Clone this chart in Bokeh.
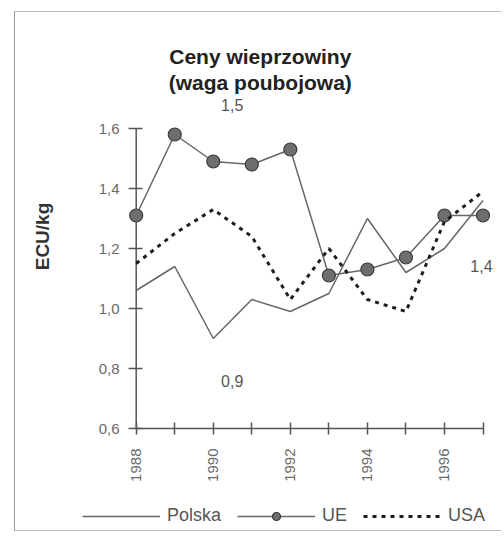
from bokeh.plotting import figure
from bokeh.layouts import column
from bokeh.models import FixedTicker, Label, Legend, LegendItem, Range1d
from bokeh.embed import file_html
from bokeh.resources import INLINE
import math

years = [1988, 1989, 1990, 1991, 1992, 1993, 1994, 1995, 1996, 1997]
polska = [1.06, 1.14, 0.90, 1.03, 0.99, 1.05, 1.30, 1.12, 1.20, 1.36]
ue = [1.31, 1.58, 1.49, 1.48, 1.53, 1.11, 1.13, 1.17, 1.31, 1.31]
usa = [1.15, 1.25, 1.33, 1.24, 1.03, 1.20, 1.03, 0.99, 1.29, 1.39]
y_ticks = [0.6, 0.8, 1.0, 1.2, 1.4, 1.6]
y_tick_labels = ["0,6", "0,8", "1,0", "1,2", "1,4", "1,6"]
x_tick_labels = ["1988", "", "1990", "", "1992", "", "1994", "", "1996", ""]
series_names = ["Polska", "UE", "USA"]

GRAY_TXT = "#6a6a6a"
AX = "#555555"
LINE_GRAY = "#666666"


def draw_series(fig):
    r1 = fig.line(years, polska, line_color=LINE_GRAY, line_width=1.5)
    r2 = fig.line(years, ue, line_color=LINE_GRAY, line_width=1.5)
    r3 = fig.scatter(years, ue, size=13, fill_color="#6e6e6e", line_color="#3a3a3a", line_width=1.2)
    r4 = fig.line(years, usa, line_color="#1e1e1e", line_width=3, line_dash="4 5")
    return r1, r2, r3, r4


p = figure(width=486, height=490, output_backend="svg", toolbar_location=None,
           x_range=(1987.8, 1997.35), y_range=(0.6, 1.88),
           min_border_left=113, min_border_right=5, min_border_top=32, min_border_bottom=74)
p.outline_line_color = None
p.xgrid.visible = False
p.ygrid.visible = False

xa = p.xaxis[0]
xa.ticker = FixedTicker(ticks=years)
xa.major_label_overrides = {y: l for y, l in zip(years, x_tick_labels)}
xa.major_label_orientation = math.pi / 2
xa.bounds = (years[0], years[-1])
xa.major_tick_in = 6
xa.major_tick_out = 6
xa.axis_line_color = AX
xa.axis_line_width = 1.5
ya = p.yaxis[0]
ya.ticker = FixedTicker(ticks=y_ticks)
ya.major_label_overrides = {t: l for t, l in zip(y_ticks, y_tick_labels)}
ya.bounds = (y_ticks[0], y_ticks[-1])
ya.axis_line_color = None
ya.major_tick_in = 14
ya.major_tick_out = 0
ya.axis_label = "ECU/kg"
ya.axis_label_text_font = "Liberation Sans"
ya.axis_label_text_font_style = "bold"
ya.axis_label_text_font_size = "19px"
ya.axis_label_text_color = "#333333"
ya.axis_label_standoff = 43
for a in (xa, ya):
    a.major_tick_line_color = AX
    a.major_tick_line_width = 1.5
    a.minor_tick_line_color = None
    a.major_label_text_font = "Liberation Sans"
    a.major_label_text_font_size = "15px"
    a.major_label_text_color = GRAY_TXT
xa.major_label_standoff = 14
ya.major_label_standoff = 9

# vertical axis line at the first year
p.segment(x0=[years[0]], y0=[y_ticks[0]], x1=[years[0]], y1=[y_ticks[-1]],
          line_color=AX, line_width=1.5)

draw_series(p)

title_font = "Liberation Sans"
p.add_layout(Label(x=1991.22, y=1.84, text="Ceny wieprzowiny", text_align="center",
                   text_baseline="alphabetic", text_font=title_font, text_font_style="bold",
                   text_font_size="21px", text_color="#222222"))
p.add_layout(Label(x=1991.22, y=1.755, text="(waga poubojowa)", text_align="center",
                   text_baseline="alphabetic", text_font=title_font, text_font_style="bold",
                   text_font_size="21px", text_color="#222222"))
for x, y, t in [(1990.49, 1.677, "1,5"), (1990.49, 0.76, "0,9"), (1996.96, 1.143, "1,4")]:
    p.add_layout(Label(x=x, y=y, text=t, text_align="center", text_baseline="middle",
                       text_font="Liberation Sans", text_font_size="16px", text_color="#555555"))

# legend strip (series drawn off-range, only their legend samples show)
lg = figure(width=486, height=28, output_backend="svg", toolbar_location=None,
            x_range=Range1d(0, 1), y_range=Range1d(0, 1),
            min_border=0, min_border_left=0, min_border_right=0, min_border_top=0, min_border_bottom=0)
lg.frame_align = False
lg.axis.visible = False
lg.grid.visible = False
lg.outline_line_color = None
l_pl, l_ue, l_ue_m, l_us = draw_series(lg)
legend = Legend(items=[LegendItem(label=series_names[0], renderers=[l_pl]),
                       LegendItem(label=series_names[1], renderers=[l_ue, l_ue_m]),
                       LegendItem(label=series_names[2], renderers=[l_us])],
                orientation="horizontal", location=(67, 4),
                glyph_width=78, glyph_height=20, label_standoff=7, spacing=16,
                padding=0, margin=0, border_line_color=None, background_fill_alpha=0,
                label_text_font="Liberation Sans", label_text_font_size="18px",
                label_text_color="#555555")
lg.add_layout(legend, "center")

layout = column(p, lg, spacing=0,
                styles={"border-left": "1px solid #999", "border-top": "1px solid #bbb",
                        "border-bottom": "1px solid #bbb", "margin-left": "14px",
                        "margin-top": "11px"})

open("out.html", "w").write(file_html(layout, INLINE))
